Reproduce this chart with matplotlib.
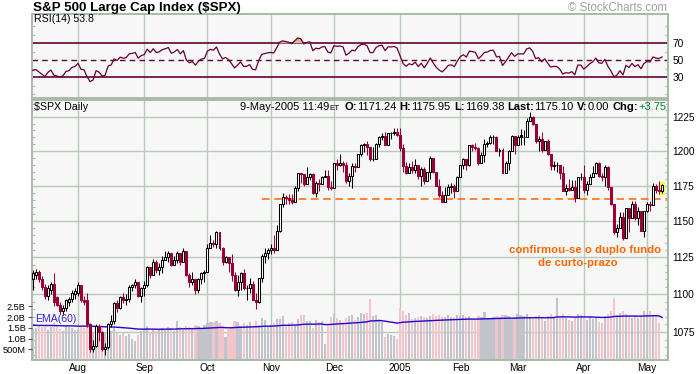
import numpy as np
import matplotlib
matplotlib.use("Agg")
import matplotlib.pyplot as plt
import matplotlib.transforms as mtransforms
from matplotlib.patches import Rectangle
from matplotlib.ticker import FixedLocator, FixedFormatter, NullFormatter

plt.rcParams['font.family'] = ['Liberation Sans', 'DejaVu Sans']

W, H = 697, 374

# =========================
# data
# =========================
month_labels = ["Aug", "Sep", "Oct", "Nov", "Dec", "2005", "Feb", "Mar", "Apr", "May"]
days_in_month = [15, 22, 21, 21, 21, 22, 20, 19, 22, 21, 6]   # Jul(part) .. May(part)

opens = [
    1110, 1113, 1115, 1110, 1105, 1099, 1103, 1107, 1098, 1093, 1089, 1091, 1095, 1097, 1100,
    1101, 1106, 1096, 1096, 1080, 1064, 1066, 1079, 1075, 1064, 1065, 1080, 1082, 1094, 1091, 1098, 1096, 1097, 1105, 1106, 1108, 1099,
    1104, 1106, 1118, 1113, 1122, 1116, 1118, 1123, 1125, 1128, 1120, 1123, 1128, 1122, 1129, 1113, 1108, 1110, 1103, 1110, 1114,
    1115, 1131, 1135, 1134, 1142, 1131, 1122, 1125, 1121, 1113, 1103, 1108, 1114, 1104, 1104, 1107, 1096, 1095, 1111, 1126, 1128,
    1130, 1131, 1130, 1143, 1162, 1167, 1166, 1165, 1163, 1173, 1184, 1183, 1176, 1181, 1183, 1170, 1177, 1176, 1181, 1182, 1174,
    1173, 1191, 1190, 1191, 1190, 1178, 1182, 1189, 1188, 1198, 1204, 1205, 1203, 1194, 1194, 1205, 1210, 1211, 1204, 1213, 1213, 1214,
    1212, 1202, 1189, 1184, 1188, 1186, 1190, 1182, 1187, 1178, 1185, 1195, 1185, 1175, 1168, 1163, 1168, 1174, 1175, 1171,
    1181, 1190, 1194, 1190, 1204, 1203, 1202, 1191, 1197, 1205, 1206, 1210, 1210, 1200, 1201, 1184, 1191, 1200, 1211,
    1204, 1212, 1210, 1210, 1222, 1225, 1220, 1207, 1209, 1201, 1207, 1198, 1189, 1190, 1190, 1184, 1171, 1173, 1172, 1174, 1166, 1181,
    1181, 1172, 1176, 1181, 1184, 1191, 1182, 1181, 1188, 1174, 1162, 1142, 1145, 1153, 1138, 1159, 1152, 1162, 1152, 1157, 1143,
    1157, 1162, 1161, 1175, 1172, 1171.24,
]
highs = [
    1116, 1117, 1116, 1112, 1107, 1106, 1108, 1114, 1099, 1095, 1093, 1097, 1098, 1103, 1104,
    1108, 1106, 1099, 1101, 1081, 1070, 1080, 1080, 1076, 1068, 1081, 1086, 1095, 1096, 1099, 1101, 1100, 1106, 1107, 1110, 1108, 1105,
    1109, 1119, 1118, 1124, 1123, 1121, 1126, 1129, 1129, 1128, 1126, 1129, 1128, 1131, 1129, 1114, 1115, 1110, 1111, 1115, 1116,
    1134, 1140, 1137, 1143, 1142, 1132, 1126, 1125, 1127, 1115, 1113, 1115, 1117, 1106, 1111, 1109, 1101, 1111, 1127, 1131, 1131,
    1134, 1140, 1147, 1162, 1170, 1168, 1169, 1169, 1175, 1184, 1184, 1183, 1188, 1184, 1184, 1178, 1180, 1182, 1186, 1186, 1178,
    1191, 1194, 1198, 1193, 1192, 1184, 1191, 1191, 1198, 1205, 1206, 1207, 1203, 1203, 1206, 1211, 1213, 1214, 1213, 1214, 1217, 1217,
    1217, 1205, 1192, 1191, 1193, 1194, 1190, 1188, 1188, 1185, 1196, 1195, 1185, 1180, 1171, 1174, 1176, 1177, 1176, 1182,
    1190, 1195, 1194, 1204, 1205, 1206, 1203, 1199, 1209, 1207, 1212, 1212, 1211, 1202, 1202, 1193, 1201, 1212, 1211,
    1212, 1216, 1215, 1224, 1229, 1226, 1220, 1211, 1214, 1207, 1209, 1198, 1193, 1192, 1190, 1189, 1176, 1180, 1179, 1179, 1181, 1184,
    1190, 1178, 1183, 1189, 1192, 1192, 1184, 1190, 1189, 1174, 1162, 1148, 1156, 1156, 1159, 1159, 1164, 1164, 1160, 1157, 1157,
    1163, 1164, 1177, 1176, 1178, 1175.95,
]
lows = [
    1103, 1110, 1108, 1103, 1097, 1096, 1100, 1092, 1092, 1087, 1086, 1089, 1092, 1095, 1097,
    1099, 1095, 1093, 1078, 1062, 1062, 1065, 1069, 1063, 1060, 1064, 1078, 1080, 1088, 1090, 1094, 1093, 1095, 1102, 1104, 1098, 1095,
    1099, 1105, 1111, 1113, 1114, 1113, 1114, 1123, 1122, 1119, 1120, 1121, 1120, 1122, 1112, 1105, 1106, 1100, 1101, 1107, 1108,
    1115, 1131, 1132, 1131, 1130, 1120, 1121, 1115, 1109, 1102, 1099, 1103, 1103, 1096, 1101, 1096, 1090, 1094, 1108, 1121, 1124,
    1127, 1128, 1130, 1142, 1160, 1162, 1162, 1162, 1163, 1171, 1177, 1175, 1176, 1179, 1169, 1167, 1171, 1176, 1181, 1172, 1172,
    1173, 1186, 1189, 1185, 1177, 1175, 1173, 1185, 1188, 1196, 1199, 1197, 1193, 1193, 1194, 1203, 1208, 1204, 1204, 1209, 1212, 1211,
    1200, 1185, 1183, 1184, 1184, 1184, 1180, 1175, 1176, 1178, 1180, 1184, 1175, 1167, 1163, 1163, 1168, 1170, 1166, 1171,
    1181, 1187, 1186, 1189, 1200, 1201, 1190, 1191, 1192, 1203, 1205, 1205, 1200, 1196, 1184, 1184, 1186, 1200, 1198,
    1204, 1204, 1204, 1210, 1222, 1219, 1206, 1200, 1199, 1201, 1197, 1186, 1186, 1185, 1180, 1171, 1168, 1171, 1172, 1163, 1166, 1179,
    1170, 1168, 1176, 1181, 1183, 1181, 1178, 1175, 1172, 1161, 1141, 1139, 1145, 1137, 1138, 1142, 1152, 1151, 1147, 1143, 1139,
    1156, 1157, 1161, 1170, 1169, 1169.38,
]
closes = [
    1114, 1115, 1110, 1105, 1099, 1104, 1107, 1095, 1093, 1089, 1091, 1096, 1097, 1101, 1102,
    1106, 1096, 1095, 1080, 1064, 1066, 1079, 1075, 1064, 1065, 1080, 1082, 1094, 1091, 1098, 1096, 1097, 1105, 1106, 1108, 1099, 1104,
    1106, 1118, 1113, 1122, 1116, 1118, 1123, 1125, 1128, 1120, 1123, 1128, 1122, 1129, 1113, 1108, 1110, 1103, 1110, 1114, 1115,
    1131, 1135, 1134, 1142, 1131, 1122, 1125, 1121, 1113, 1103, 1108, 1114, 1104, 1104, 1107, 1096, 1095, 1111, 1126, 1128, 1130,
    1131, 1130, 1143, 1162, 1167, 1166, 1165, 1163, 1173, 1184, 1183, 1176, 1181, 1183, 1170, 1177, 1176, 1181, 1182, 1174, 1173,
    1191, 1190, 1191, 1190, 1178, 1182, 1189, 1188, 1198, 1204, 1205, 1203, 1194, 1194, 1205, 1210, 1211, 1204, 1213, 1213, 1214, 1212,
    1202, 1189, 1184, 1188, 1186, 1190, 1182, 1187, 1178, 1185, 1195, 1185, 1175, 1168, 1163, 1168, 1174, 1175, 1171, 1181,
    1190, 1194, 1190, 1204, 1203, 1202, 1191, 1197, 1205, 1206, 1210, 1210, 1200, 1201, 1184, 1191, 1200, 1211, 1204,
    1210, 1210, 1210, 1222, 1225, 1220, 1207, 1209, 1201, 1207, 1198, 1189, 1190, 1190, 1184, 1171, 1173, 1172, 1174, 1166, 1181, 1181,
    1172, 1176, 1181, 1184, 1191, 1182, 1181, 1188, 1174, 1162, 1142, 1145, 1153, 1138, 1159, 1152, 1162, 1152, 1157, 1143, 1157,
    1162, 1161, 1175, 1172, 1171, 1175.10,
]
# volume in billions
volume_b = [
    1.45, 1.50, 1.60, 1.55, 1.65, 1.40, 1.55, 1.70, 1.60, 1.45, 1.35, 1.60, 1.55, 1.50, 1.40,
    1.45, 1.55, 1.50, 1.65, 1.70, 1.25, 1.35, 1.30, 1.60, 1.25, 1.45, 1.35, 1.50, 1.30, 1.15, 1.25, 1.10, 1.20, 1.00, 0.90, 1.15, 1.35,
    1.40, 1.60, 1.30, 1.45, 1.35, 1.40, 1.50, 1.40, 1.55, 1.50, 1.35, 1.80, 1.55, 1.40, 1.60, 1.55, 1.45, 1.65, 1.60, 1.45, 1.65,
    1.70, 1.75, 1.75, 1.80, 1.70, 1.60, 1.05, 1.45, 1.50, 1.80, 1.75, 1.60, 1.70, 1.65, 1.75, 1.60, 1.80, 1.65, 1.95, 1.85, 1.55,
    1.65, 1.70, 1.90, 1.90, 2.05, 1.60, 1.70, 1.75, 1.65, 1.90, 2.10, 2.10, 1.80, 1.80, 1.50, 1.85, 1.75, 1.80, 0.75, 1.60, 2.00,
    2.15, 1.95, 1.85, 1.75, 1.95, 2.05, 2.10, 1.85, 2.00, 2.20, 2.15, 2.20, 2.85, 2.05, 2.10, 1.90, 1.75, 1.05, 1.20, 1.15, 1.10, 1.00,
    2.40, 2.30, 2.10, 2.20, 1.90, 1.95, 2.00, 2.05, 2.00, 1.95, 2.05, 2.15, 2.05, 2.10, 2.00, 2.00, 2.10, 2.00, 2.00, 2.10,
    2.05, 2.10, 2.00, 2.05, 1.85, 1.85, 2.05, 2.00, 2.25, 1.95, 1.95, 2.00, 2.05, 2.00, 2.10, 2.10, 2.05, 1.90, 2.00,
    2.15, 2.10, 2.05, 2.15, 1.95, 1.90, 2.05, 2.10, 1.95, 1.80, 2.05, 2.15, 1.95, 2.90, 2.05, 2.15, 1.95, 1.85, 1.80, 2.00, 2.15, 2.10,
    2.00, 1.85, 2.05, 1.90, 1.95, 1.75, 1.70, 2.05, 2.15, 2.30, 2.90, 2.10, 2.20, 2.30, 2.15, 2.00, 1.95, 2.10, 1.95, 2.05, 2.30,
    2.15, 2.30, 2.10, 2.05, 1.70, 0.00,
]
# closes before the visible window (for RSI warm-up)
warmup_close = [1140, 1142, 1131, 1137, 1125, 1132, 1134, 1132, 1135, 1130, 1134, 1144,
                1141, 1134, 1133, 1136, 1141, 1129, 1125, 1116, 1118, 1109, 1113]
ema_seed_b = 1.62          # EMA(60) level at the left edge

support_level = 1165.5     # dashed double-bottom line
support_from = 76

header_date = "9-May-2005 11:49"
header_vals = [("O:", "1171.24"), ("H:", "1175.95"), ("L:", "1169.38"),
               ("Last:", "1175.10"), ("V:", "0.00")]
header_chg = "+3.75"
rsi_last = "53.8"

price_ticks = [1075, 1100, 1125, 1150, 1175, 1200, 1225]
rsi_ticks = [30, 50, 70]
vol_ticks = [0.5, 1.0, 1.5, 2.0, 2.5]
vol_tick_labels = ["500M", "1.0B", "1.5B", "2.0B", "2.5B"]

# =========================
# indicators
# =========================
def wilder_rsi(series, n=14):
    s = np.asarray(series, float)
    d = np.diff(s)
    gain = np.clip(d, 0, None)
    loss = np.clip(-d, 0, None)
    ag, al = gain[:n].mean(), loss[:n].mean()
    out = [100 - 100 / (1 + ag / al)]
    for g, l in zip(gain[n:], loss[n:]):
        ag = (ag * (n - 1) + g) / n
        al = (al * (n - 1) + l) / n
        out.append(100 - 100 / (1 + ag / al))
    return np.array(out)

n = len(closes)
x = np.arange(n)
rsi = wilder_rsi(warmup_close + closes)[-n:]

ema = []
e = ema_seed_b
for v in volume_b:
    e = e + (v - e) * 2 / 61
    ema.append(e)
ema = np.array(ema)

month_starts = list(np.cumsum(days_in_month)[:-1])

# =========================
# style
# =========================
BG = '#f7f7f7'
GRID = '#b7cab7'
SPINE = '#a6bba6'
RED = '#990033'
MAROON = '#660033'
XLIM = (-0.28, 210.97)

fig = plt.figure(figsize=(W / 100, H / 100), dpi=100)


def rect(top, bottom):
    return [32 / W, 1 - bottom / H, 636 / W, (bottom - top) / H]


def style_axes(a):
    a.set_facecolor(BG)
    for s in a.spines.values():
        s.set_color(SPINE)
        s.set_linewidth(1.4)
    a.set_xlim(*XLIM)
    a.set_xticks(month_starts)
    a.grid(True, axis='x', color=GRID, lw=1.0)
    a.set_axisbelow(True)


def right_labels(a):
    a.tick_params(axis='y', which='major', length=0, left=True, right=True,
                  labelleft=False, labelright=True, pad=3, labelsize=7.3)
    a.tick_params(axis='y', which='minor', length=2.2, direction='in',
                  left=True, right=True, labelleft=False, labelright=False,
                  color=SPINE, width=0.8)


# ---------- RSI panel ----------
ax_r = fig.add_axes(rect(14, 98))
style_axes(ax_r)
ax_r.set_ylim(5.6, 104.5)
ax_r.set_xticklabels([])
ax_r.tick_params(axis='x', length=0)
ax_r.yaxis.set_major_locator(FixedLocator(rsi_ticks))
ax_r.yaxis.set_major_formatter(FixedFormatter([str(t) for t in rsi_ticks]))
ax_r.yaxis.set_minor_locator(FixedLocator([10, 20, 40, 60, 80, 90]))
right_labels(ax_r)
ax_r.axhline(70, color=MAROON, lw=1.2, zorder=2)
ax_r.axhline(30, color=MAROON, lw=1.2, zorder=2)
ax_r.axhline(50, color=MAROON, lw=1.0, ls=(0, (4, 3)), zorder=2)
ax_r.fill_between(x, rsi, 70, where=rsi >= 70, interpolate=True,
                  facecolor='#cdbf93', edgecolor='none', zorder=2.5)
ax_r.plot(x, rsi, color=MAROON, lw=0.9, zorder=3)

# ---------- price panel ----------
ax = fig.add_axes(rect(100, 360))
style_axes(ax)
ax.set_yscale('log')
ax.set_ylim(1056.9, 1237.7)
ax.autoscale(False)
ax.yaxis.set_major_locator(FixedLocator(price_ticks))
ax.yaxis.set_major_formatter(FixedFormatter([str(p) for p in price_ticks]))
ax.yaxis.set_minor_locator(FixedLocator(list(range(1060, 1240, 5))))
ax.yaxis.set_minor_formatter(NullFormatter())
ax.grid(True, axis='y', which='major', color=GRID, lw=1.0)
ax.set_xticklabels(month_labels)
ax.tick_params(axis='x', length=0, pad=2.5, labelsize=7.3)

# volume bars (linear scale in axes fraction)
vtrans = mtransforms.blended_transform_factory(ax.transData, ax.transAxes)
VTOP = 12.1
for i in range(n):
    prev = closes[i - 1] if i else warmup_close[-1]
    col = '#f2c5cb' if closes[i] < prev else '#c3c3cb'
    if volume_b[i] > 0:
        ax.add_patch(Rectangle((i - 0.36, 0), 0.72, volume_b[i] / VTOP,
                               transform=vtrans, facecolor=col,
                               edgecolor='none', zorder=1))
ax.plot(x, ema / VTOP, transform=vtrans, color='#2a00d4', lw=1.0, zorder=1.5)

# support line
ax.plot([support_from, XLIM[1]], [support_level, support_level],
        color='#ff6600', lw=1.1, ls=(0, (5, 3)), zorder=2)

# highlight last bar
ax.add_patch(Rectangle((n - 1 - 0.95, lows[-1] * 0.9992), 1.9,
                       highs[-1] * 1.0012 - lows[-1] * 0.9992,
                       facecolor='#ffff33', edgecolor='none', zorder=2.5))

# candles
wx, wlo, whi, wcol = [], [], [], []
for i in range(n):
    o, h, l, c = opens[i], highs[i], lows[i], closes[i]
    prev = closes[i - 1] if i else warmup_close[-1]
    col = RED if c < prev else 'black'
    wx.append(i); wlo.append(min(l, o, c)); whi.append(max(h, o, c)); wcol.append(col)
    lo, hi = min(o, c), max(o, c)
    if hi - lo < 0.4:
        ax.hlines(o, i - 0.33, i + 0.33, color=col, lw=0.8, zorder=4)
    else:
        face = col if c < o else 'white'
        ax.add_patch(Rectangle((i - 0.33, lo), 0.66, hi - lo, facecolor=face,
                               edgecolor=col, lw=0.75, zorder=4))
ax.vlines(wx, wlo, whi, colors=wcol, lw=0.75, zorder=3)

# volume axis labels on the left
ax_v = ax.twinx()
ax_v.set_ylim(0, VTOP)
ax_v.patch.set_visible(False)
for s in ax_v.spines.values():
    s.set_visible(False)
ax_v.yaxis.set_ticks_position('left')
ax_v.set_yticks(vol_ticks)
ax_v.set_yticklabels(vol_tick_labels)
ax_v.tick_params(axis='y', length=3, direction='out', color='#555555',
                 pad=1.5, labelsize=6.6)
# twinx moves the price labels to the left: put them back on the right
right_labels(ax)

# =========================
# texts
# =========================
def ftext(px, py, s, **kw):
    return fig.text(px / W, 1 - py / H, s, **kw)


ftext(33, 11.5, "S&P 500 Large Cap Index ($SPX)", fontsize=9.6,
      fontweight='bold', va='baseline')
ftext(667, 11, "\u00a9 StockCharts.com", fontsize=8.3, color='#a0a0a0',
      ha='right', va='baseline')
ftext(34, 22.5, "RSI(14) " + rsi_last, fontsize=7.6, va='baseline')
ftext(34, 110, "$SPX Daily", fontsize=7.7, va='baseline')
ftext(35, 321.5, "EMA(60)", fontsize=7.6, va='baseline', color='#3322cc')
ftext(584.7, 252.7, "confirmou-se o duplo fundo", fontsize=8.2,
      fontweight='bold', color='#ff6600', ha='center', va='baseline')
ftext(578, 266, "de curto-prazo", fontsize=8.2,
      fontweight='bold', color='#ff6600', ha='center', va='baseline')

# header on the right, laid out right-to-left
HS = 8.0
segments = [(header_date, dict(fontsize=HS), 0),
            ("ET", dict(fontsize=5.8), 4.5)]
for lab, val in header_vals:
    segments.append((lab, dict(fontsize=HS, fontweight='bold'), 0))
    segments.append((val, dict(fontsize=HS), 3.5))
segments.append(("Chg:", dict(fontsize=HS, fontweight='bold'), 0))
segments.append((header_chg, dict(fontsize=HS, color='#00802b'), 0))

fig.canvas.draw()
renderer = fig.canvas.get_renderer()
cx = 666
for s, kw, gap in reversed(segments):
    cx -= gap
    t = ftext(cx, 110, s, ha='right', va='baseline', **kw)
    cx -= t.get_window_extent(renderer=renderer).width

fig.savefig("out.png", dpi=100)
